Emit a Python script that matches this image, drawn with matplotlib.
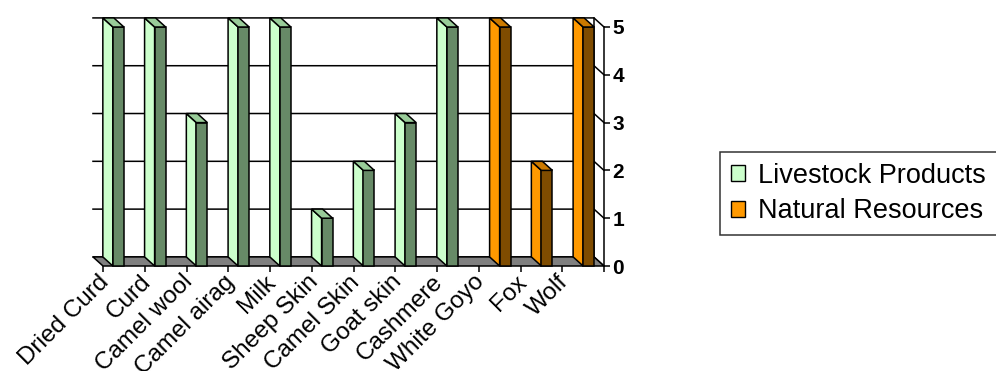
import numpy as np
import matplotlib.pyplot as plt
from matplotlib.patches import Polygon, Patch
from matplotlib.transforms import ScaledTranslation

plt.rcParams['font.family'] = ['Liberation Sans', 'DejaVu Sans']

# data
categories = ['Dried Curd', 'Curd', 'Camel wool', 'Camel airag', 'Milk', 'Sheep Skin',
              'Camel Skin', 'Goat skin', 'Cashmere', 'White Goyo', 'Fox', 'Wolf']
livestock = [5, 5, 3, 5, 5, 1, 2, 3, 5, 0, 0, 0]
natural = [0, 0, 0, 0, 0, 0, 0, 0, 0, 5, 2, 5]
series_names = ['Livestock Products', 'Natural Resources']
yticks = [0, 1, 2, 3, 4, 5]

# colours: (side face, front face, top)
green = ('#CCFFCC', '#678A67', '#99CC99')
orange = ('#FF9900', '#7F4C00', '#CC7A00')

# fake 3d depth (data units) and bar width
dx, dy = -0.24, 0.19
w = 0.264
lw = 1.1

fig = plt.figure(figsize=(9.96, 3.71), dpi=100)
ax = fig.add_axes([103/996, (371-266)/371, (604-103)/996, (266-27)/371])
n = len(categories)
ax.set_xlim(-0.5, n - 0.5)
ax.set_ylim(0, 5)

x0, x1 = -0.5, n - 0.5

# back wall gridlines + connectors to front axis
for v in yticks:
    ax.plot([x0 + dx, x1 + dx, x1], [v + dy, v + dy, v], color='black', lw=lw,
            zorder=1, clip_on=False)
ax.plot([x1 + dx, x1 + dx], [dy, 5 + dy], color='black', lw=lw, zorder=1, clip_on=False)

# floor
floor = Polygon([(x0, 0), (x1, 0), (x1 + dx, dy), (x0 + dx, dy)], closed=True,
                facecolor='#808080', edgecolor='black', lw=lw, zorder=2, clip_on=False)
ax.add_patch(floor)


def bar3d(xl, v, cols):
    xr = xl + w
    side = Polygon([(xl, 0), (xl, v), (xl + dx, v + dy), (xl + dx, dy)], closed=True,
                   facecolor=cols[0], edgecolor='black', lw=lw, zorder=3, clip_on=False)
    front = Polygon([(xl, 0), (xr, 0), (xr, v), (xl, v)], closed=True,
                    facecolor=cols[1], edgecolor='black', lw=lw, zorder=3, clip_on=False)
    top = Polygon([(xl, v), (xr, v), (xr + dx, v + dy), (xl + dx, v + dy)], closed=True,
                  facecolor=cols[2], edgecolor='black', lw=lw, zorder=3, clip_on=False)
    for p in (side, front, top):
        ax.add_patch(p)


for i in range(n):
    if livestock[i] > 0:
        bar3d(i - w, livestock[i], green)
    if natural[i] > 0:
        bar3d(i, natural[i], orange)

# axes styling
for s in ['top', 'left', 'bottom']:
    ax.spines[s].set_visible(False)
ax.spines['right'].set_linewidth(lw)
ax.spines['right'].set_zorder(4)
ax.yaxis.tick_right()
ax.set_yticks(yticks)
ax.set_yticklabels([str(t) for t in yticks], fontweight='bold')
ax.tick_params(axis='y', length=4, width=lw, pad=2, labelsize=15)
ax.set_xticks(np.arange(n + 1) - 0.5)
ax.set_xticklabels([])
ax.tick_params(axis='x', length=4, width=lw, direction='out')
ax.patch.set_visible(False)

# category labels
off = ScaledTranslation(-26/100, -5/100, fig.dpi_scale_trans)
for i, name in enumerate(categories):
    ax.text(i, 0, name, rotation=45, rotation_mode='anchor', ha='right', va='top',
            fontsize=17.5, transform=ax.transData + off)

handles = [Patch(facecolor=green[0], edgecolor='black'),
           Patch(facecolor=orange[0], edgecolor='black')]
leg = fig.legend(handles, series_names, loc='upper left',
                 bbox_to_anchor=(720/996, 1 - 152/371), frameon=True, fancybox=False,
                 edgecolor='black', fontsize=19.5, handlelength=0.52, handleheight=0.52,
                 handletextpad=0.5, borderpad=0.4, labelspacing=0.35, borderaxespad=0)
leg.get_frame().set_linewidth(lw)

fig.savefig('out.png', dpi=100)
